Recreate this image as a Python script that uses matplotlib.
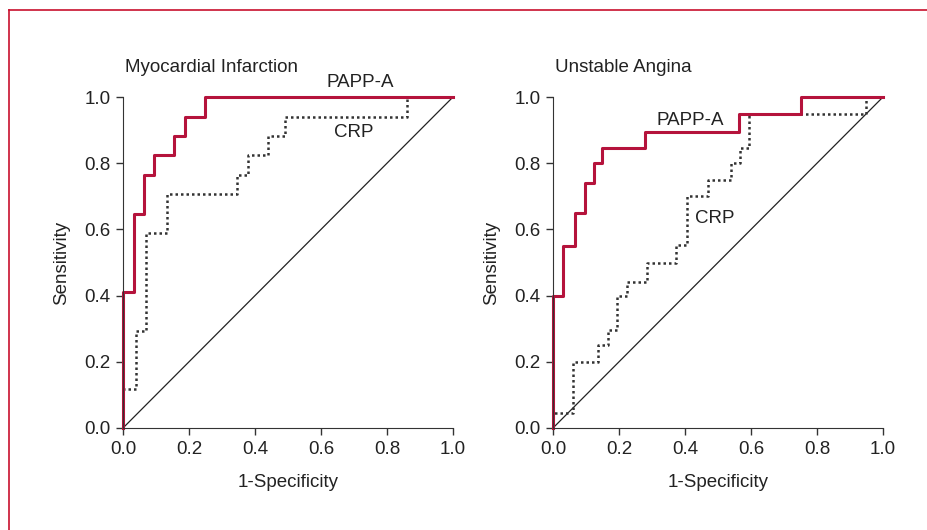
import matplotlib
matplotlib.use('Agg')
import matplotlib.pyplot as plt
from matplotlib.lines import Line2D

plt.rcParams['font.family'] = ['Liberation Sans Narrow', 'Liberation Sans', 'DejaVu Sans']

RED = '#b5133c'
BORDER = '#c8102e'

# Myocardial infarction: step points (x where sensitivity jumps, new level)
mi_papp_x = [0.0, 0.0, 0.033, 0.065, 0.095, 0.156, 0.188, 0.248, 1.0]
mi_papp_y = [0.0, 0.41, 0.647, 0.765, 0.824, 0.882, 0.941, 1.0, 1.0]
mi_crp_x = [0.0, 0.0, 0.039, 0.07, 0.132, 0.344, 0.38, 0.44, 0.49, 0.86, 1.0]
mi_crp_y = [0.0, 0.118, 0.294, 0.588, 0.706, 0.765, 0.824, 0.882, 0.941, 1.0, 1.0]

# Unstable angina
ua_papp_x = [0.0, 0.0, 0.031, 0.067, 0.097, 0.123, 0.148, 0.278, 0.563, 0.753, 1.0]
ua_papp_y = [0.0, 0.40, 0.55, 0.65, 0.74, 0.80, 0.845, 0.895, 0.95, 1.0, 1.0]
ua_crp_x = [0.0, 0.0, 0.062, 0.135, 0.166, 0.194, 0.224, 0.285, 0.374, 0.406,
            0.469, 0.538, 0.568, 0.594, 0.948, 1.0]
ua_crp_y = [0.0, 0.044, 0.198, 0.25, 0.296, 0.40, 0.44, 0.50, 0.553, 0.70,
            0.75, 0.80, 0.845, 0.95, 1.0, 1.0]

ticks = [0.0, 0.2, 0.4, 0.6, 0.8, 1.0]
tick_labels = ['0.0', '0.2', '0.4', '0.6', '0.8', '1.0']

panels = [
    ('Myocardial Infarction', mi_papp_x, mi_papp_y, mi_crp_x, mi_crp_y,
     (0.72, 1.045), (0.70, 0.894)),
    ('Unstable Angina', ua_papp_x, ua_papp_y, ua_crp_x, ua_crp_y,
     (0.416, 0.93), (0.49, 0.634)),
]

fig = plt.figure(figsize=(9.27, 5.30), dpi=100)

# red frame at top and left
fig.add_artist(Line2D([9 / 927, 9 / 927], [0, 1 - 10 / 530], color=BORDER, lw=1.2,
                      transform=fig.transFigure))
fig.add_artist(Line2D([9 / 927, 1], [1 - 10 / 530, 1 - 10 / 530], color=BORDER, lw=1.2,
                      transform=fig.transFigure))

lefts = [123 / 927, 553 / 927]
for left, (title, px, py, cx, cy, papp_pos, crp_pos) in zip(lefts, panels):
    ax = fig.add_axes([left, 102 / 530, 330 / 927, 331 / 530])
    ax.plot([0, 1], [0, 1], color='#222222', lw=0.9, clip_on=False)
    ax.step(cx, cy, where='post', color='#333333', lw=1.8, ls=(0, (1, 1.2)), clip_on=False)
    ax.step(px, py, where='post', color=RED, lw=2.2, clip_on=False)
    ax.set_xlim(0, 1)
    ax.set_ylim(0, 1)
    ax.spines['top'].set_visible(False)
    ax.spines['right'].set_visible(False)
    ax.spines['left'].set_color('#333333')
    ax.spines['bottom'].set_color('#333333')
    ax.set_xticks(ticks)
    ax.set_xticklabels(tick_labels)
    ax.set_yticks(ticks)
    ax.set_yticklabels(tick_labels)
    ax.tick_params(direction='out', length=5, width=1, color='#333333',
                   labelsize=13.5, labelcolor='#222222', pad=4)
    ax.set_xlabel('1-Specificity', fontsize=13.5, color='#222222', labelpad=12)
    ax.set_ylabel('Sensitivity', fontsize=13.5, color='#222222', labelpad=10)
    ax.text(0.005, 1.09, title, transform=ax.transAxes, fontsize=13.5,
            color='#222222', ha='left', va='center')
    ax.text(papp_pos[0], papp_pos[1], 'PAPP-A', fontsize=13.5, color='#222222',
            ha='center', va='center', clip_on=False)
    ax.text(crp_pos[0], crp_pos[1], 'CRP', fontsize=13.5, color='#222222',
            ha='center', va='center', clip_on=False)

fig.savefig('out.png', dpi=100)
